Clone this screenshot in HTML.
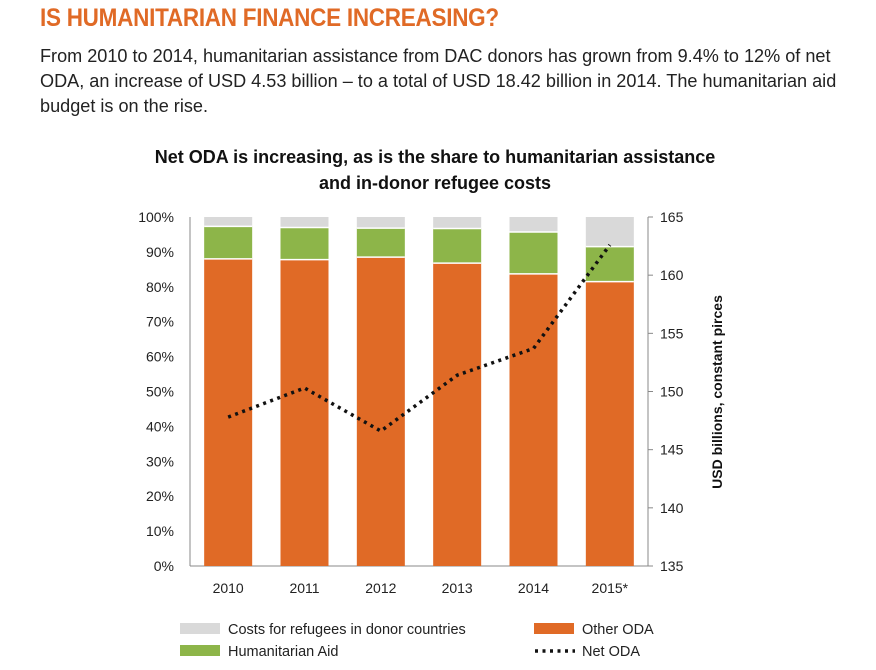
<!DOCTYPE html>
<html><head><meta charset="utf-8"><style>
body{margin:0;width:876px;height:670px;background:#fff;font-family:"Liberation Sans",sans-serif;overflow:hidden;position:relative}
.h{position:absolute;left:40px;top:4px;font-size:25px;font-weight:bold;color:#e06a26;letter-spacing:-0.3px;transform:scaleX(0.9);transform-origin:left top;white-space:nowrap}
.p{position:absolute;left:40px;top:44px;width:900px;font-size:18.1px;line-height:25px;color:#222;white-space:nowrap}
</style></head><body>
<div class="h">IS HUMANITARIAN FINANCE INCREASING?</div>
<div class="p">From 2010 to 2014, humanitarian assistance from DAC donors has grown from 9.4% to 12% of net<br>ODA, an increase of USD 4.53 billion – to a total of USD 18.42 billion in 2014. The humanitarian aid<br>budget is on the rise.</div>
<svg id="c" width="876" height="670" style="position:absolute;left:0;top:0"></svg>
<script>
const years=["2010","2011","2012","2013","2014","2015*"];
const otherODA=[88.0,87.8,88.5,86.8,83.7,81.5];
const humAid=[9.3,9.2,8.3,9.9,12.0,10.0];
const refugee=[2.7,3.0,3.2,3.3,4.3,8.5];
const netODA=[147.8,150.3,146.6,151.4,153.7,162.6];
const leftTicks=[0,10,20,30,40,50,60,70,80,90,100];
const rightTicks=[135,140,145,150,155,160,165];
const svg=document.getElementById('c');
const NS='http://www.w3.org/2000/svg';
const X0=190,X1=648,Y0=566,Y1=217;
const yL=v=>Y0-(v/100)*(Y0-Y1);
const yR=v=>Y0-((v-135)/30)*(Y0-Y1);
const band=(X1-X0)/years.length;
const xC=i=>X0+band*(i+0.5);
function el(t,a,txt){const e=document.createElementNS(NS,t);for(const k in a)e.setAttribute(k,a[k]);if(txt!=null)e.textContent=txt;svg.appendChild(e);return e;}
let t=el('text',{x:435,y:163,'text-anchor':'middle','font-size':18,'font-weight':'bold',fill:'#111'},'Net ODA is increasing, as is the share to humanitarian assistance');

t=el('text',{x:435,y:189,'text-anchor':'middle','font-size':18,'font-weight':'bold',fill:'#111'},'and in-donor refugee costs');

leftTicks.forEach(v=>{const e=el('text',{x:174,y:yL(v)+5,'text-anchor':'end','font-size':14,fill:'#222'},v+'%');
});
rightTicks.forEach(v=>{const e=el('text',{x:660,y:yR(v)+5,'font-size':14,fill:'#222'},v);

const k=el('line',{x1:X1,x2:X1+5,y1:yR(v),y2:yR(v),stroke:'#888'});});
let a=el('line',{x1:X0,x2:X0,y1:Y1,y2:Y0,stroke:'#888'});
a=el('line',{x1:X1,x2:X1,y1:Y1,y2:Y0,stroke:'#888'});
a=el('line',{x1:X0,x2:X1,y1:Y0,y2:Y0,stroke:'#888'});
const bw=48;
years.forEach((y,i)=>{
 const x=xC(i)-bw/2;
 let b=el('rect',{x:x,y:yL(otherODA[i]),width:bw,height:yL(0)-yL(otherODA[i]),fill:'#e06a26'});
 
 const s2=otherODA[i]+humAid[i];
 b=el('rect',{x:x,y:yL(s2),width:bw,height:yL(otherODA[i])-yL(s2),fill:'#8db549'});
 
 const s3=s2+refugee[i];
 b=el('rect',{x:x,y:yL(s3),width:bw,height:yL(s2)-yL(s3),fill:'#d9d9d9'});
 
 b=el('line',{x1:x,x2:x+bw,y1:yL(otherODA[i]),y2:yL(otherODA[i]),stroke:'#fff','stroke-width':1.5});
 b=el('line',{x1:x,x2:x+bw,y1:yL(s2),y2:yL(s2),stroke:'#fff','stroke-width':1.5});
 const l=el('text',{x:xC(i),y:593,'text-anchor':'middle','font-size':14,fill:'#222'},y);
 
});
const pl=el('polyline',{points:netODA.map((v,i)=>xC(i)+','+yR(v)).join(' '),fill:'none',stroke:'#111','stroke-width':3.5,'stroke-dasharray':'3 4.5'});

t=el('text',{x:0,y:0,'font-size':14,'font-weight':'bold',fill:'#111','text-anchor':'middle',transform:'translate(722,392) rotate(-90)'},'USD billions, constant pirces');

let r=el('rect',{x:180,y:623,width:40,height:11,fill:'#d9d9d9'});
t=el('text',{x:228,y:634,'font-size':14.5,fill:'#222'},'Costs for refugees in donor countries');
r=el('rect',{x:180,y:645,width:40,height:11,fill:'#8db549'});
t=el('text',{x:228,y:656,'font-size':14.5,fill:'#222'},'Humanitarian Aid');
r=el('rect',{x:534,y:623,width:40,height:11,fill:'#e06a26'});
t=el('text',{x:582,y:634,'font-size':14.5,fill:'#222'},'Other ODA');
r=el('line',{x1:535,x2:575,y1:651,y2:651,stroke:'#111','stroke-width':3.5,'stroke-dasharray':'3 4.5'});
t=el('text',{x:582,y:656,'font-size':14.5,fill:'#222'},'Net ODA');
</script>
</body></html>
